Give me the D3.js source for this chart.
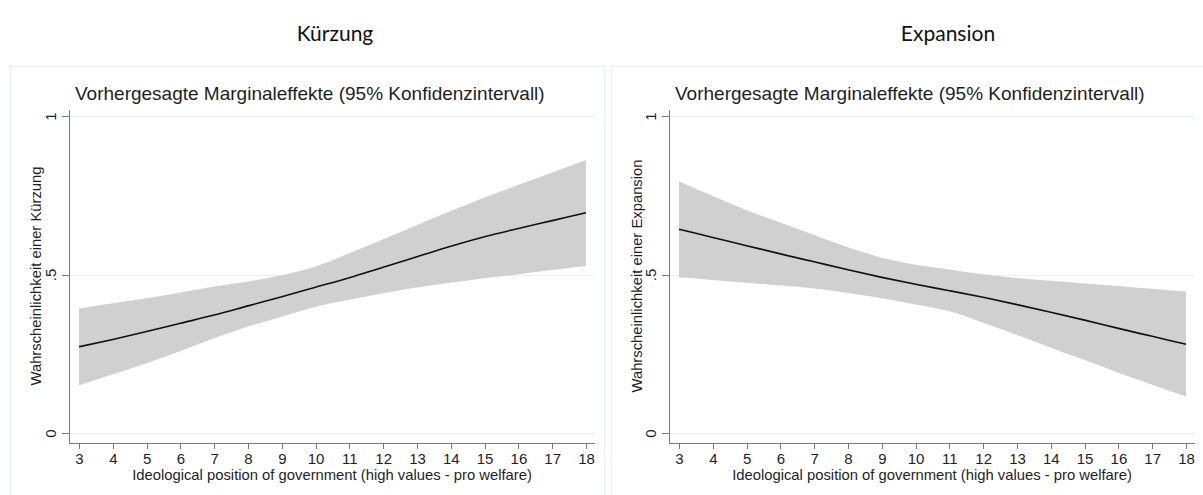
<!DOCTYPE html>
<meta charset="utf-8">
<style>

body { margin: 0; background: #fff; font-family: "Liberation Sans", Arial, sans-serif; }

.axis path,
.axis line {
    fill: none;
    stroke: #7a7a7a;
    stroke-width: 1;
    shape-rendering: crispEdges;
}

.axis text { fill: #1e1e1e; font-size: 15px; font-family: "Liberation Sans", Arial, sans-serif; }

</style>
<body>

<script src="https://d3js.org/d3.v7.min.js"></script>

<script>

// Ideological position of government (x values)
var positions = [3, 4, 5, 6, 7, 8, 9, 10, 11, 12, 13, 14, 15, 16, 17, 18];

// Kürzung: predicted probability and 95% CI
var kuerzungMean = [0.272, 0.295, 0.320, 0.346, 0.372, 0.401, 0.430, 0.460, 0.490, 0.523, 0.556, 0.589, 0.619, 0.645, 0.670, 0.695];
var kuerzungLow  = [0.151, 0.185, 0.220, 0.259, 0.299, 0.336, 0.367, 0.398, 0.420, 0.441, 0.459, 0.474, 0.488, 0.501, 0.514, 0.527];
var kuerzungHigh = [0.393, 0.409, 0.425, 0.443, 0.462, 0.478, 0.498, 0.525, 0.567, 0.611, 0.656, 0.700, 0.743, 0.783, 0.822, 0.861];

// Expansion: predicted probability and 95% CI
var expansionMean = [0.643, 0.617, 0.591, 0.565, 0.540, 0.515, 0.491, 0.469, 0.449, 0.428, 0.405, 0.381, 0.356, 0.330, 0.305, 0.280];
var expansionLow  = [0.491, 0.483, 0.474, 0.465, 0.456, 0.442, 0.425, 0.405, 0.384, 0.348, 0.309, 0.269, 0.230, 0.190, 0.152, 0.115];
var expansionHigh = [0.793, 0.748, 0.703, 0.664, 0.625, 0.586, 0.553, 0.531, 0.516, 0.501, 0.489, 0.480, 0.472, 0.464, 0.455, 0.446];

// y ticks
var yTicks = [0, 0.5, 1];
var yTickLabels = ["0", ".5", "1"];

var panels = [
    {header: "Kürzung", ylabel: "Wahrscheinlichkeit einer Kürzung", mean: kuerzungMean, low: kuerzungLow, high: kuerzungHigh},
    {header: "Expansion", ylabel: "Wahrscheinlichkeit einer Expansion", mean: expansionMean, low: expansionLow, high: expansionHigh}
];

var svg = d3.select("body")
    .append("svg")
        .attr("width", 1203)
        .attr("height", 495);

// Set the ranges (inside a panel)
var x = d3.scaleLinear().domain([3, 18]).range([79, 586]);
var y = d3.scaleLinear().domain([0, 1]).range([433, 116]);

panels.forEach(function(p, i) {
    var g = svg.append("g")
        .attr("transform", "translate(" + (i * 600) + ",0)");

    // header above the panel
    g.append("text")
        .attr("x", i == 0 ? 335 : 348)
        .attr("y", 41)
        .attr("text-anchor", "middle")
        .style("font-family", "Lato, 'Open Sans', sans-serif")
        .style("font-size", "21px")
        .style("fill", "#111")
        .text(p.header);

    // panel frame
    g.append("rect")
        .attr("x", i == 0 ? 10.5 : 11.5)
        .attr("y", 66.5)
        .attr("width", 594)
        .attr("height", 440)
        .attr("fill", "#fff")
        .attr("stroke", "#e6eef0");

    // title
    g.append("text")
        .attr("x", 75)
        .attr("y", 100)
        .style("font-size", "19px")
        .style("fill", "#1e1e1e")
        .text("Vorhergesagte Marginaleffekte (95% Konfidenzintervall)");

    // gridlines
    g.selectAll(".grid")
        .data(yTicks)
      .enter().append("line")
        .attr("x1", 69)
        .attr("x2", 595)
        .attr("y1", function(d) { return Math.round(y(d)) + 0.5; })
        .attr("y2", function(d) { return Math.round(y(d)) + 0.5; })
        .attr("stroke", "#e8f0f1")
        .attr("stroke-width", 1);

    var rows = positions.map(function(d, j) {
        return {x: d, mean: p.mean[j], low: p.low[j], high: p.high[j]};
    });

    // confidence band
    g.append("path")
        .datum(rows)
        .attr("fill", "#d0d0d0")
        .attr("d", d3.area()
            .curve(d3.curveMonotoneX)
            .x(function(d) { return x(d.x); })
            .y0(function(d) { return y(d.low); })
            .y1(function(d) { return y(d.high); }));

    // predicted line
    g.append("path")
        .datum(rows)
        .attr("fill", "none")
        .attr("stroke", "#111")
        .attr("stroke-width", 1.6)
        .attr("d", d3.line()
            .curve(d3.curveMonotoneX)
            .x(function(d) { return x(d.x); })
            .y(function(d) { return y(d.mean); }));

    // x axis
    var xAxis = d3.axisBottom(x)
        .tickValues(positions)
        .tickSize(6)
        .tickPadding(4)
        .tickSizeOuter(0);

    var xg = g.append("g")
        .attr("class", "x axis")
        .attr("transform", "translate(0,443)")
        .call(xAxis);
    xg.select(".domain").attr("d", "M69,0.5H595");

    g.append("text")
        .attr("x", 332)
        .attr("y", 480)
        .attr("text-anchor", "middle")
        .style("font-size", "14.8px")
        .style("fill", "#1e1e1e")
        .text("Ideological position of government (high values - pro welfare)");

    // y axis
    var yAxis = d3.axisLeft(y)
        .tickValues(yTicks)
        .tickFormat(function(d, k) { return yTickLabels[k]; })
        .tickSize(7)
        .tickPadding(4)
        .tickSizeOuter(0);

    var yg = g.append("g")
        .attr("class", "y axis")
        .attr("transform", "translate(69,0)")
        .call(yAxis);
    yg.select(".domain").attr("d", "M0.5,110V443");
    yg.selectAll(".tick text")
        .attr("transform", "rotate(-90)")
        .attr("x", 0)
        .attr("y", -13)
        .attr("dy", 0)
        .attr("text-anchor", "middle");

    g.append("text")
        .attr("transform", "rotate(-90)")
        .attr("x", -276)
        .attr("y", 41 + i)
        .attr("text-anchor", "middle")
        .style("font-size", "14.8px")
        .style("fill", "#1e1e1e")
        .text(p.ylabel);
});

</script>
</body>
